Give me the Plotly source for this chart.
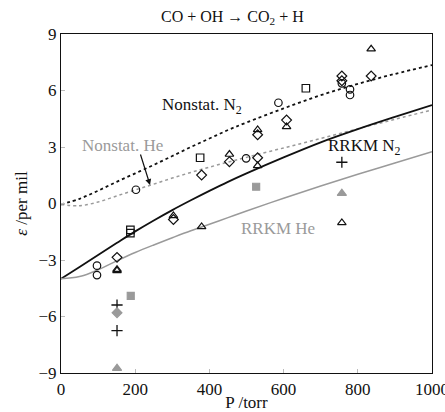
import plotly.graph_objects as go

# ---- data ----
P_curve = [0, 50, 100, 150, 200, 250, 300, 350, 400, 450, 500, 600, 700, 800, 900, 1000]
nonstat_n2 = [-0.05, 0.25, 0.68, 1.15, 1.6, 2.05, 2.52, 3.0, 3.45, 3.9, 4.3, 5.05, 5.75, 6.35, 6.88, 7.35]
nonstat_he = [-0.05, -0.12, 0.08, 0.4, 0.72, 1.03, 1.35, 1.65, 1.93, 2.2, 2.45, 2.95, 3.45, 3.97, 4.47, 4.97]
rrkm_n2 = [-4.0, -3.37, -2.73, -2.1, -1.48, -0.9, -0.35, 0.17, 0.67, 1.15, 1.6, 2.45, 3.25, 3.95, 4.6, 5.23]
rrkm_he = [-4.0, -3.88, -3.52, -3.05, -2.6, -2.2, -1.82, -1.45, -1.1, -0.75, -0.4, 0.28, 0.93, 1.55, 2.15, 2.75]

circ_P = [97, 97, 202, 499, 586, 757, 779, 779]
circ_e = [-3.3, -3.8, 0.73, 2.4, 5.35, 6.38, 6.06, 5.76]
sq_P = [187, 187, 375, 660]
sq_e = [-1.4, -1.57, 2.43, 6.12]
dia_P = [151, 303, 379, 454, 530, 530, 608, 757, 757, 836]
dia_e = [-2.86, -0.85, 1.51, 2.22, 2.43, 3.65, 4.43, 6.77, 6.52, 6.77]
tri_P = [151, 151, 303, 379, 454, 530, 530, 608, 757, 836]
tri_e = [-3.57, -3.5, -0.65, -1.23, 2.61, 2.0, 3.92, 4.08, -1.02, 8.2]
plus_P = [151, 151, 757]
plus_e = [-5.39, -6.75, 2.19]
gsq_P = [188, 526]
gsq_e = [-4.91, 0.89]
gdia_P = [151]
gdia_e = [-5.8]
gtri_P = [151, 757]
gtri_e = [-8.75, 0.54]

x_ticks = [0, 200, 400, 600, 800, 1000]
y_ticks = [-9, -6, -3, 0, 3, 6, 9]

BLACK = "#111111"
GRAY = "#9a9a9a"
FONT = "Liberation Serif"

fig = go.Figure()

fig.add_trace(go.Scatter(x=P_curve, y=nonstat_n2, mode="lines", line=dict(color=BLACK, width=1.8, dash="dot", shape="spline", smoothing=1.0)))
fig.add_trace(go.Scatter(x=P_curve, y=nonstat_he, mode="lines", line=dict(color=GRAY, width=1.5, dash="dot", shape="spline", smoothing=1.0)))
fig.add_trace(go.Scatter(x=P_curve, y=rrkm_n2, mode="lines", line=dict(color=BLACK, width=1.8, shape="spline", smoothing=1.0)))
fig.add_trace(go.Scatter(x=P_curve, y=rrkm_he, mode="lines", line=dict(color=GRAY, width=1.5, shape="spline", smoothing=1.0)))

def pts(x, y, symbol, color, size=7, lw=1.2):
    fig.add_trace(go.Scatter(x=x, y=y, mode="markers",
                             marker=dict(symbol=symbol, size=size, color=color,
                                         line=dict(color=color, width=lw))))

pts(circ_P, circ_e, "circle-open", BLACK, 7.5)
pts(sq_P, sq_e, "square-open", BLACK, 7.5)
pts(dia_P, dia_e, "diamond-open", BLACK, 7.5)
pts(tri_P, tri_e, "triangle-up-open", BLACK, 7.5)
pts(plus_P, plus_e, "cross-thin-open", BLACK, 8, 1.3)
pts(gsq_P, gsq_e, "square", GRAY, 7)
pts(gdia_P, gdia_e, "diamond", GRAY, 7.5)
pts(gtri_P, gtri_e, "triangle-up", GRAY, 8)

ann_font = dict(family=FONT, size=17)
fig.add_annotation(x=381, y=5.18, text="Nonstat. N<sub>2</sub>", showarrow=False, font=dict(color=BLACK, **ann_font))
fig.add_annotation(x=167, y=3.1, text="Nonstat. He", showarrow=False, font=dict(color=GRAY, **ann_font))
fig.add_annotation(x=817, y=3.02, text="RRKM N<sub>2</sub>", showarrow=False, font=dict(color=BLACK, **ann_font))
fig.add_annotation(x=584, y=-1.32, text="RRKM He", showarrow=False, font=dict(color=GRAY, **ann_font))
fig.add_annotation(x=240, y=0.98, ax=213, ay=2.68, axref="x", ayref="y", text="", showarrow=True,
                   arrowhead=2, arrowsize=1, arrowwidth=1.2, arrowcolor=BLACK)
fig.add_annotation(x=0.4636, y=1, xref="paper", yref="paper", yshift=17, yanchor="middle",
                   text="CO + OH → CO<sub>2</sub> + H", showarrow=False,
                   font=dict(family=FONT, size=16, color=BLACK))

fig.update_layout(
    width=445, height=412,
    margin=dict(l=61, r=13, t=34, b=39),
    paper_bgcolor="white", plot_bgcolor="white",
    showlegend=False,
    font=dict(family=FONT, size=17, color=BLACK),
)
fig.update_xaxes(range=[0, 1000], tickvals=x_ticks, ticks="inside", ticklen=4, tickcolor="#bbbbbb",
                 ticklabeloverflow="allow", automargin=False,
                 showline=True, linecolor=BLACK, linewidth=1.2, mirror=True, showgrid=False, zeroline=False,
                 title=dict(text="P /torr", standoff=0, font=dict(size=17)), tickfont=dict(size=17))
fig.update_yaxes(range=[-9, 9], tickvals=y_ticks, ticks="inside", ticklen=4, tickcolor="#bbbbbb",
                 ticklabeloverflow="allow", automargin=False,
                 showline=True, linecolor=BLACK, linewidth=1.2, mirror=True, showgrid=False, zeroline=False,
                 title=dict(text="<i>ε</i> /per mil", standoff=6, font=dict(size=17)), tickfont=dict(size=17))

fig.write_html("out.html")
